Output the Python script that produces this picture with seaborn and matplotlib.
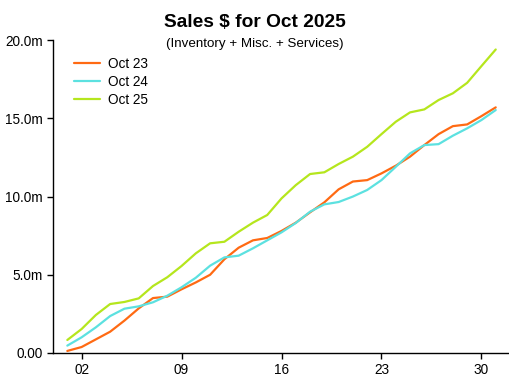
import numpy as np
import pandas as pd
import matplotlib.pyplot as plt
import seaborn as sns

# cumulative sales by day of month, in millions
days = list(range(1, 32))
oct23 = [0.13, 0.38, 0.87, 1.36, 2.07, 2.85, 3.51, 3.6, 4.07, 4.51, 5.0,
         5.99, 6.73, 7.2, 7.35, 7.8, 8.33, 8.99, 9.63, 10.46, 10.96,
         11.05, 11.48, 11.97, 12.55, 13.29, 13.99, 14.5, 14.61, 15.14, 15.7]
oct24 = [0.47, 1.0, 1.64, 2.36, 2.83, 2.98, 3.24, 3.66, 4.2, 4.81, 5.58,
         6.11, 6.22, 6.69, 7.2, 7.71, 8.31, 9.03, 9.5, 9.65, 10.0,
         10.42, 11.05, 11.9, 12.76, 13.29, 13.35, 13.89, 14.36, 14.89, 15.53]
oct25 = [0.83, 1.53, 2.43, 3.13, 3.26, 3.49, 4.28, 4.84, 5.56, 6.37, 7.01,
         7.11, 7.75, 8.33, 8.82, 9.88, 10.73, 11.44, 11.55, 12.08, 12.55,
         13.18, 13.99, 14.78, 15.38, 15.57, 16.17, 16.6, 17.27, 18.34, 19.4]
series = ['Oct 23', 'Oct 24', 'Oct 25']
colors = ['#FF6A13', '#5CE1E0', '#B5E61D']

x_ticks = [2, 9, 16, 23, 30]
x_labels = ['02', '09', '16', '23', '30']
y_ticks = [0, 5, 10, 15, 20]
y_labels = ['0.00', '5.0m', '10.0m', '15.0m', '20.0m']

df = pd.DataFrame({
    'day': days * 3,
    'sales': oct23 + oct24 + oct25,
    'month': [s for s in series for _ in days],
})

sns.set_style('ticks')
plt.rcParams['font.family'] = ['Liberation Sans', 'DejaVu Sans']
plt.rcParams['text.color'] = 'black'

fig = plt.figure(figsize=(5.1, 3.82), dpi=100)
ax = fig.add_axes([0.104, 0.076, 0.896, 0.819])
sns.lineplot(data=df, x='day', y='sales', hue='month', palette=colors,
             linewidth=1.6, ax=ax)

ax.set_xlim(0, 32)
ax.set_ylim(0, 20)
ax.set_xticks(x_ticks)
ax.set_xticklabels(x_labels)
ax.set_yticks(y_ticks)
ax.set_yticklabels(y_labels)
ax.tick_params(labelsize=9.8, length=4, width=1, colors='black')
ax.set_xlabel('')
ax.set_ylabel('')
sns.despine(ax=ax)
for sp in ['left', 'bottom']:
    ax.spines[sp].set_color('black')
    ax.spines[sp].set_linewidth(1)

leg = ax.legend(loc='upper left', frameon=False, fontsize=9.8,
                bbox_to_anchor=(0.02, 0.985), handlelength=1.9,
                handletextpad=0.6, labelspacing=0.3)

fig.text(0.5, 0.94, 'Sales $ for Oct 2025', ha='center', va='center',
         fontsize=13.8, fontweight='bold', color='black')
fig.text(0.5, 0.884, '(Inventory + Misc. + Services)', ha='center',
         va='center', fontsize=9.6, color='black')

fig.savefig('out.png', dpi=100)
